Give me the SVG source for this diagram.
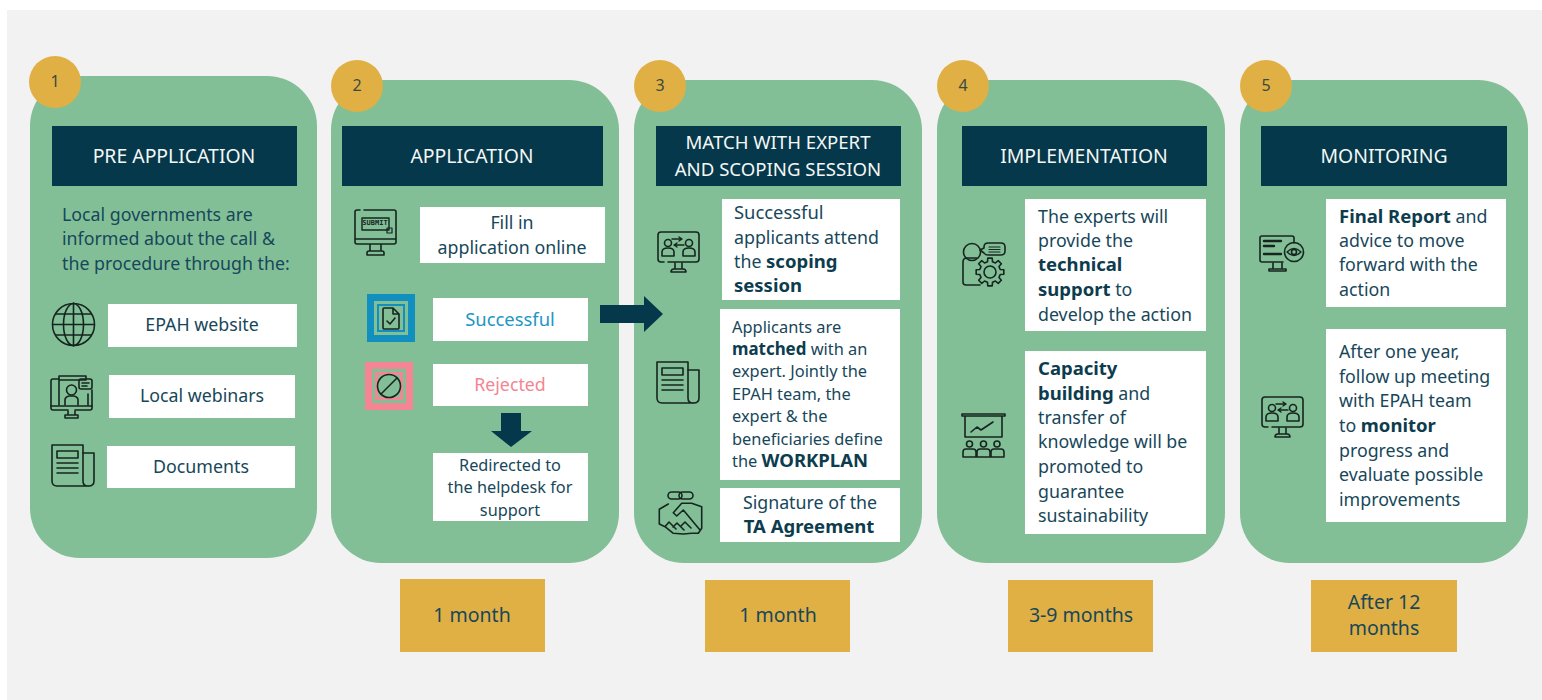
<svg xmlns="http://www.w3.org/2000/svg" xmlns:xlink="http://www.w3.org/1999/xlink" width="1542" height="700" viewBox="0 0 1542 700">
<style>
text{font-family:"Noto Sans","Open Sans",sans-serif;fill:#17475a;font-size:17.8px;text-anchor:middle}
.h{fill:#f4f7f7;font-size:19.4px}
.l{text-anchor:start}
.t{font-size:16.4px}
.s{font-size:16.3px}
.b{font-weight:700;font-size:18.5px;fill:#0d3c4e}
.m{font-weight:700;font-size:16.9px;fill:#0d3c4e}
.w{font-size:18.4px}
.d{font-size:19.5px}
.panel{fill:#82bf97}
.badge{fill:#e0b045}
.head{fill:#05384a}
.box{fill:#fff}
.dur{fill:#e0b045}
.n{font-size:16px;fill:#3a4a40}
.i{fill:none;stroke:#16251f;stroke-width:1.6;stroke-linejoin:round;stroke-linecap:round}
.arrow{fill:#05384a}
</style>
<defs>
<g id="paper" class="i">
<path d="M2 2H33V38Q33 43 38 43H7Q2 43 2 38Z"/><path d="M33 10H44V38Q44 43 38.500 43"/>
<rect x="7" y="8" width="21" height="7"/><path d="M7 20H28M7 25H28M7 30H28"/>
</g>
<g id="meet" class="i">
<path d="M8 32H5Q2 32 2 29V5Q2 2 5 2H40Q43 2 43 5V29Q43 32 40 32H12"/>
<path d="M19 33V39M26 33V39M15 42Q15 39 18 39H27Q30 39 30 42Z"/>
<circle cx="12" cy="13" r="3.500"/><circle cx="33" cy="13" r="3.500"/>
<path d="M6 26V22Q6 18 12 18Q18 18 18 22V26ZM27 26V22Q27 18 33 18Q39 18 39 22V26Z"/>
<path d="M16 9H26M23 7L26 9L23 11M28 15H18M21 13L18 15L21 17" stroke-width="1.400"/>
</g>
</defs>
<rect width="1542" height="700" fill="#fff"/>
<rect x="7" y="10" width="1535" height="690" fill="#f2f2f2"/>

<g id="node-1">
<rect class="panel" x="30" y="76" width="287" height="482" rx="50"/>
<circle class="badge" cx="55" cy="82" r="26"/><text class="n" x="55" y="87">1</text>
<rect class="head" x="52" y="126" width="245" height="60"/><text class="h" x="174" y="163">PRE APPLICATION</text>
<text class="l" x="62" y="221">Local governments are</text>
<text class="l" x="62" y="245">informed about the call &amp;</text>
<text class="l" x="62" y="270">the procedure through the:</text>
<rect class="box" x="108" y="304" width="189" height="43"/><text x="202" y="331">EPAH website</text>
<rect class="box" x="109" y="375" width="186" height="43"/><text x="202" y="402">Local webinars</text>
<rect class="box" x="107" y="446" width="188" height="42"/><text x="201" y="473">Documents</text>
<g class="i" transform="translate(52,303)"><circle cx="21.500" cy="21.500" r="21"/><ellipse cx="21.500" cy="21.500" rx="10" ry="21"/><path d="M21.500 0V43M1 21.500H42M4 11H39M4 32H39"/></g>
<g class="i" transform="translate(50,375)"><path d="M18 35H3Q1 35 1 33V6Q1 4 3 4H8M36 4V1H9V30M9 5H36M38 19V30M42 15V33Q42 35 40 35H25"/><path d="M1 31H42M18 36V39M25 36V39M15 43V40H28V43Z"/><rect x="29" y="4" width="13" height="10" rx="2"/><path d="M32 8H39M32 11H37"/><circle cx="21.500" cy="15" r="5"/><path d="M15 30V25Q15 22 19 21H24Q28 22 28 25V30"/></g>
<use xlink:href="#paper" href="#paper" x="50" y="443"/>
</g>

<g id="node-2">
<rect class="panel" x="331" y="80" width="288" height="483" rx="50"/>
<circle class="badge" cx="357" cy="86" r="26"/><text class="n" x="357" y="91">2</text>
<rect class="head" x="342" y="126" width="261" height="60"/><text class="h" x="472" y="163">APPLICATION</text>
<rect class="box" x="420" y="207" width="185" height="56"/><text x="512" y="229">Fill in</text><text x="512" y="254">application online</text>
<g class="i" transform="translate(354,209)"><path d="M1 30H42M6 1H3Q1 1 1 3V33Q1 35 3 35H40Q42 35 42 33V3Q42 1 40 1H10M16 36V41M27 36V41M13 46V44Q13 42 15 42H28Q30 42 30 44V46Z"/><rect x="8" y="9" width="27" height="12" stroke-width="1.400"/><rect x="33" y="19" width="5" height="5" stroke-width="1.200"/></g>
<text x="375" y="225" style="font:700 7px 'DejaVu Sans Mono',monospace;fill:#16251f">SUBMIT</text>
<rect x="367" y="294" width="48" height="48" fill="#118fbf"/><rect x="374" y="301" width="34" height="34" fill="#82bf97"/><rect x="377" y="304" width="28" height="28" fill="#118fbf"/><rect x="379" y="306" width="24" height="24" fill="#82bf97"/>
<g class="i" transform="translate(382,307)" stroke-width="1.400"><path d="M1 2Q1 1 2 1H11L17 7V21Q17 22 16 22H2Q1 22 1 21ZM11 1V7H17M5 14L8 17L13 11"/></g>
<rect class="box" x="433" y="298" width="155" height="43"/><text class="w" x="510" y="326" style="fill:#2196c4">Successful</text>
<rect x="365" y="362" width="48" height="48" fill="#f48592"/><rect x="372" y="369" width="34" height="34" fill="#82bf97"/><rect x="375" y="372" width="28" height="28" fill="#f48592"/><rect x="378" y="375" width="22" height="22" fill="#82bf97"/>
<g class="i" stroke-width="2.200"><circle cx="389" cy="386" r="11.500"/><path d="M381 394L397 378"/></g>
<rect class="box" x="433" y="364" width="155" height="42"/><text x="510" y="391" style="fill:#f48592">Rejected</text>
<rect class="box" x="433" y="453" width="155" height="68"/>
<text class="s" x="510" y="471">Redirected to</text><text class="s" x="510" y="493">the helpdesk for</text><text class="s" x="510" y="516">support</text>
</g>

<g id="node-3">
<rect class="panel" x="634" y="80" width="288" height="483" rx="50"/>
<circle class="badge" cx="660" cy="86" r="26"/><text class="n" x="660" y="91">3</text>
<rect class="head" x="656" y="126" width="245" height="60"/><text class="h" x="778" y="149" style="font-size:18.6px">MATCH WITH EXPERT</text><text class="h" x="778" y="176" style="font-size:18.6px">AND SCOPING SESSION</text>
<rect class="box" x="722" y="199" width="178" height="101"/>
<text class="l w" x="734" y="219">Successful</text><text class="l" x="734" y="244">applicants attend</text><text class="l" x="734" y="268">the <tspan class="b">scoping</tspan></text><text class="l b" x="734" y="292">session</text>
<use xlink:href="#meet" href="#meet" x="656" y="230"/>
<rect class="box" x="720" y="309" width="180" height="171"/>
<text class="l t" x="732" y="333">Applicants are</text><text class="l t" x="732" y="355"><tspan class="m">matched</tspan> with an</text><text class="l t" x="732" y="377">expert. Jointly the</text><text class="l t" x="732" y="400">EPAH team, the</text><text class="l t" x="732" y="422">expert &amp; the</text><text class="l t" x="732" y="445">beneficiaries define</text><text class="l t" x="732" y="467">the <tspan class="b">WORKPLAN</tspan></text>
<use xlink:href="#paper" href="#paper" x="655" y="360"/>
<rect class="box" x="720" y="488" width="180" height="54"/>
<text x="810" y="509">Signature of the</text><text class="b" x="809" y="533">TA Agreement</text>
<g class="i" transform="translate(658,491)"><rect x="10" y="1" width="14" height="7" rx="3.500"/><rect x="21" y="1" width="14" height="7" rx="3.500"/><path d="M10.300 13L1.300 18.300V33L7 35.700L15.300 42.300L25.300 43L33.700 42.300H40.300L43.700 37.300V15.700L33.700 12.300H23.700L15.300 21.700L18.700 25L25.300 19L42 39M7 35.700L11 31L18 38M15 36L19 32L26 39M23 35L27 31L33 37"/></g>
</g>

<g id="node-4">
<rect class="panel" x="937" y="80" width="288" height="483" rx="50"/>
<circle class="badge" cx="963" cy="86" r="26"/><text class="n" x="963" y="91">4</text>
<rect class="head" x="962" y="126" width="245" height="60"/><text class="h" x="1084" y="163">IMPLEMENTATION</text>
<rect class="box" x="1025" y="199" width="181" height="132"/>
<text class="l" x="1038" y="223">The experts will</text><text class="l" x="1038" y="247">provide the</text><text class="l b" x="1038" y="271">technical</text><text class="l" x="1038" y="296"><tspan class="b">support</tspan> to</text><text class="l" x="1038" y="321">develop the action</text>
<g class="i" transform="translate(962,242)"><circle cx="10" cy="10" r="8.500"/><path d="M15 16H5Q1 16 1 20V40Q1 43 4 43H18"/><path d="M22 5Q22 1 26 1H39Q43 1 43 5V9Q43 13 39 13H26Q23 13 22 11L18 8L22 6Z"/><path d="M27 5H38M27 7.500H38M27 10H38" stroke-width="1.100"/><g transform="translate(28,30)"><circle r="6"/><path d="M-2.540-10.190L-2.190-13.830H2.190L2.540-10.190L5.410-9L8.230-11.330L11.330-8.230L9-5.410L10.190-2.540L13.830-2.190V2.190L10.190 2.540L9 5.410L11.330 8.230L8.230 11.330L5.410 9L2.540 10.190L2.190 13.830H-2.190L-2.540 10.190L-5.410 9L-8.230 11.330L-11.330 8.230L-9 5.410L-10.190 2.540L-13.830 2.190V-2.190L-10.190-2.540L-9-5.410L-11.330-8.230L-8.230-11.330L-5.410-9Z"/></g></g>
<rect class="box" x="1025" y="351" width="181" height="183"/>
<text class="l b" x="1038" y="375">Capacity</text><text class="l" x="1038" y="400"><tspan class="b">building</tspan> and</text><text class="l" x="1038" y="424">transfer of</text><text class="l" x="1038" y="448">knowledge will be</text><text class="l" x="1038" y="473">promoted to</text><text class="l" x="1038" y="498">guarantee</text><text class="l" x="1038" y="522">sustainability</text>
<g class="i" transform="translate(962,413)"><path d="M0 1H43V3H0ZM3 3V24H40V3M9 19L15 14L19 17L31 9"/><circle cx="7.500" cy="31" r="3"/><circle cx="21.500" cy="31" r="3"/><circle cx="35" cy="31" r="3"/><path d="M1 44V39Q1 36 4 36H11Q14 36 14 39V44ZM15 44V39Q15 36 18 36H25Q28 36 28 39V44ZM29 44V39Q29 36 32 36H39Q42 36 42 39V44Z"/></g>
</g>

<g id="node-5">
<rect class="panel" x="1240" y="80" width="288" height="483" rx="50"/>
<circle class="badge" cx="1266" cy="86" r="26"/><text class="n" x="1266" y="91">5</text>
<rect class="head" x="1261" y="126" width="246" height="60"/><text class="h" x="1384" y="163">MONITORING</text>
<rect class="box" x="1326" y="199" width="180" height="108"/>
<text class="l" x="1339" y="223"><tspan class="b">Final Report</tspan> and</text><text class="l" x="1339" y="247">advice to move</text><text class="l" x="1339" y="271">forward with the</text><text class="l" x="1339" y="296">action</text>
<g class="i" transform="translate(1259,235)"><path d="M24 27H3Q1 27 1 25V3Q1 1 3 1H33Q35 1 35 3V8"/><path d="M5 6H22M5 11H15M5 19H22" stroke-width="2.400"/><circle cx="35" cy="17" r="9.500"/><path d="M28 17Q35 10 42 17Q35 24 28 17Z" stroke-width="1.300"/><circle cx="35" cy="17" r="2.500"/><path d="M14 28V33M23 28V33M10 36V34H27V36Z"/></g>
<rect class="box" x="1326" y="329" width="180" height="193"/>
<text class="l" x="1339" y="358">After one year,</text><text class="l" x="1339" y="383">follow up meeting</text><text class="l" x="1339" y="407">with EPAH team</text><text class="l" x="1339" y="432">to <tspan class="b">monitor</tspan></text><text class="l" x="1339" y="457">progress and</text><text class="l" x="1339" y="481">evaluate possible</text><text class="l" x="1339" y="506">improvements</text>
<use xlink:href="#meet" href="#meet" x="1260" y="395"/>
</g>

<g id="durations">
<rect class="dur" x="400" y="579" width="145" height="73"/><text class="d" x="472" y="622">1 month</text>
<rect class="dur" x="705" y="580" width="145" height="72"/><text class="d" x="778" y="622">1 month</text>
<rect class="dur" x="1008" y="580" width="145" height="72"/><text class="d" x="1081" y="622">3-9 months</text>
<rect class="dur" x="1311" y="580" width="146" height="72"/><text class="d" x="1384" y="609">After 12</text><text class="d" x="1384" y="635">months</text>
</g>

<g id="connectors">
<path class="arrow" d="M600 305H644V296L663 314L644 332V323H600Z"/>
<path class="arrow" d="M501 413H521V431H532L511 447L491 431H501Z"/>
</g>
</svg>
